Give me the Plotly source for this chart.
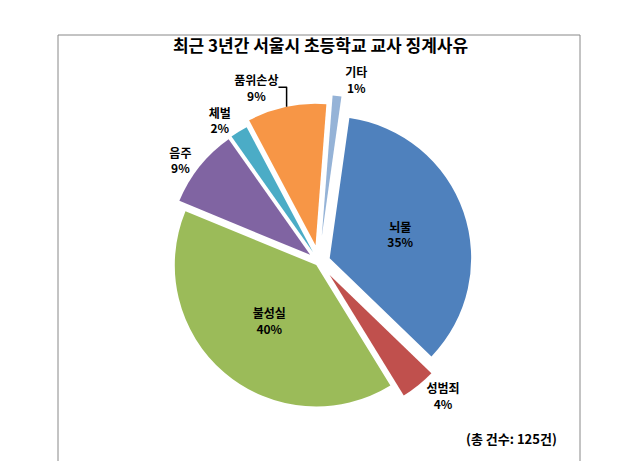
import plotly.graph_objects as go

labels = ["뇌물", "성범죄", "불성실", "음주", "체벌", "품위손상", "기타"]
values = [35, 4, 40, 9, 2, 9, 1]
colors = ["#4F81BD", "#C0504D", "#9BBB59", "#8064A2", "#4BACC6", "#F79646", "#95B3D7"]
pulls = [0.08, 0.12, 0.03, 0.08, 0.08, 0.12, 0.18]
positions = ["inside", "outside", "inside", "outside", "outside", "outside", "outside"]

fig = go.Figure(go.Pie(
    labels=labels, values=values, sort=False, direction="clockwise", rotation=8,
    marker=dict(colors=colors, line=dict(color="white", width=0)),
    pull=pulls, textposition=positions,
    texttemplate="<b>%{label}<br>%{percent:.0%}</b>",
    textfont=dict(size=12, color="black", family="Noto Sans CJK KR"),
    showlegend=False,
    domain=dict(x=[0.08, 0.92], y=[0.08, 0.86]),
))
fig.update_layout(
    width=625, height=461, paper_bgcolor="white",
    margin=dict(l=6, r=6, t=6, b=6),
    font=dict(family="Noto Sans CJK KR"),
    title=dict(text="<b>최근 3년간 서울시 초등학교 교사 징계사유</b>", x=0.5, y=0.93,
               xanchor="center", font=dict(size=17, color="black")),
    shapes=[dict(type="rect", xref="paper", yref="paper", x0=0, x1=1, y0=0, y1=1,
                 line=dict(color="#888", width=1))],
    annotations=[dict(text="<b>(총 건수: 125건)</b>", x=0.96, y=0.03, xref="paper", yref="paper",
                      xanchor="right", yanchor="bottom", showarrow=False,
                      font=dict(size=13, color="black"))],
)
fig.write_html("out.html")
